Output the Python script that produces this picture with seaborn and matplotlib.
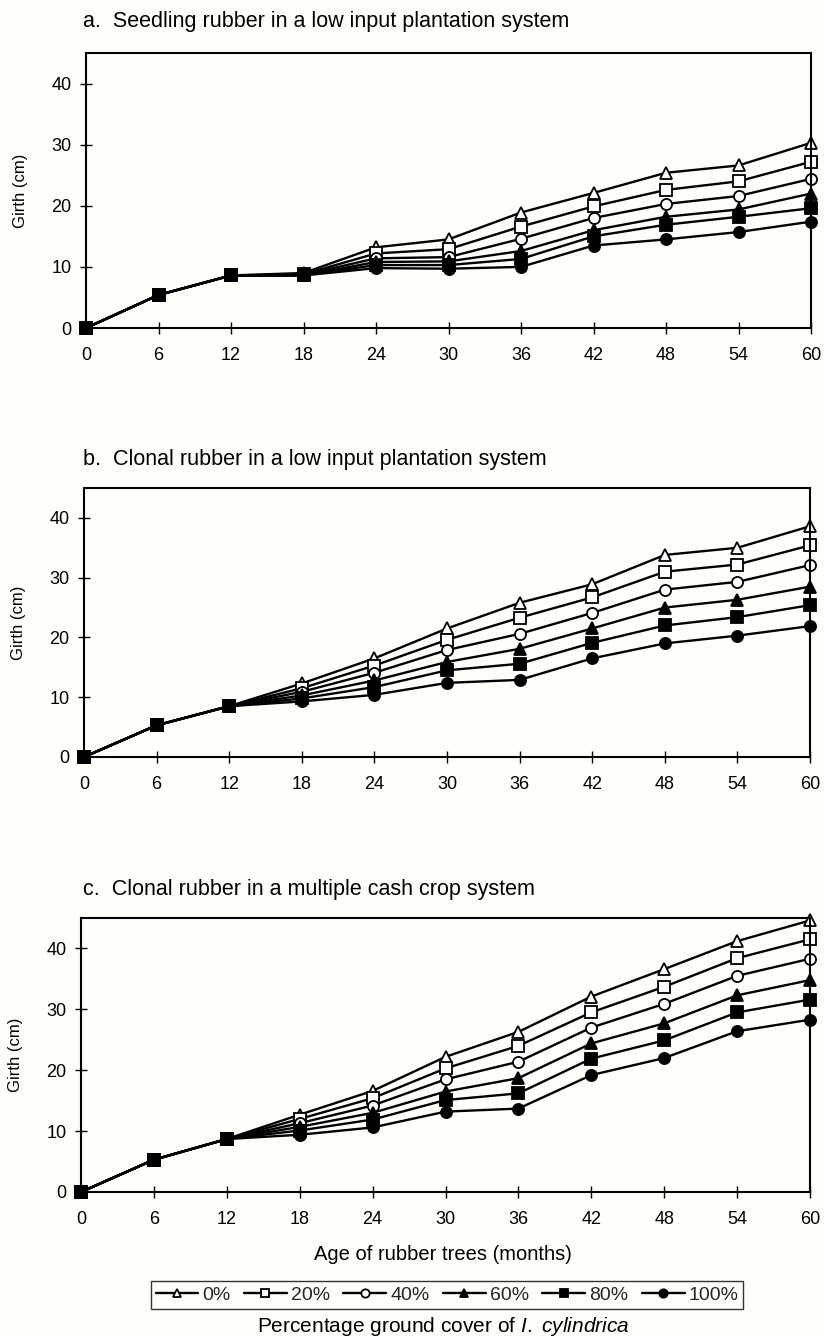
import numpy as np
import pandas as pd
import matplotlib
matplotlib.use("Agg")
import matplotlib.pyplot as plt
import seaborn as sns

# Age of the trees (months) and ground-cover treatments
months = [0, 6, 12, 18, 24, 30, 36, 42, 48, 54, 60]
cover_labels = ["0%", "20%", "40%", "60%", "80%", "100%"]

# a. Seedling rubber, low input plantation system (girth, cm)
seedling_0 = [0, 5.4, 8.6, 9.0, 13.2, 14.5, 18.9, 22.1, 25.4, 26.6, 30.3]
seedling_20 = [0, 5.4, 8.6, 8.8, 12.2, 12.9, 16.6, 19.9, 22.6, 24.0, 27.2]
seedling_40 = [0, 5.4, 8.6, 8.7, 11.4, 11.6, 14.6, 18.0, 20.3, 21.6, 24.4]
seedling_60 = [0, 5.4, 8.6, 8.6, 10.8, 10.9, 12.6, 16.0, 18.2, 19.4, 22.0]
seedling_80 = [0, 5.4, 8.6, 8.6, 10.3, 10.3, 11.3, 15.0, 16.9, 18.2, 19.6]
seedling_100 = [0, 5.4, 8.6, 8.6, 9.8, 9.7, 10.0, 13.5, 14.5, 15.7, 17.4]

# b. Clonal rubber, low input plantation system
clonal_low_0 = [0, 5.3, 8.5, 12.3, 16.5, 21.5, 25.8, 28.9, 33.8, 35.0, 38.6]
clonal_low_20 = [0, 5.3, 8.5, 11.5, 15.3, 19.6, 23.3, 26.7, 31.0, 32.2, 35.4]
clonal_low_40 = [0, 5.3, 8.5, 10.9, 14.1, 17.9, 20.6, 24.1, 28.0, 29.3, 32.1]
clonal_low_60 = [0, 5.3, 8.5, 10.3, 12.8, 15.9, 18.1, 21.5, 25.0, 26.3, 28.5]
clonal_low_80 = [0, 5.3, 8.5, 9.8, 11.7, 14.5, 15.6, 19.1, 22.0, 23.4, 25.4]
clonal_low_100 = [0, 5.3, 8.5, 9.3, 10.4, 12.4, 12.9, 16.5, 19.0, 20.3, 21.9]

# c. Clonal rubber, multiple cash crop system
clonal_cash_0 = [0, 5.3, 8.7, 12.7, 16.6, 22.2, 26.3, 32.1, 36.6, 41.2, 44.6]
clonal_cash_20 = [0, 5.3, 8.7, 12.0, 15.4, 20.3, 24.0, 29.5, 33.7, 38.4, 41.5]
clonal_cash_40 = [0, 5.3, 8.7, 11.3, 14.2, 18.5, 21.4, 27.0, 30.9, 35.5, 38.3]
clonal_cash_60 = [0, 5.3, 8.7, 10.7, 13.0, 16.5, 18.7, 24.4, 27.7, 32.3, 34.8]
clonal_cash_80 = [0, 5.3, 8.7, 10.1, 11.9, 15.1, 16.2, 21.9, 24.9, 29.5, 31.6]
clonal_cash_100 = [0, 5.3, 8.7, 9.4, 10.6, 13.2, 13.7, 19.2, 22.0, 26.4, 28.3]

panels = [
    ("a.  Seedling rubber in a low input plantation system",
     [seedling_0, seedling_20, seedling_40, seedling_60, seedling_80, seedling_100]),
    ("b.  Clonal rubber in a low input plantation system",
     [clonal_low_0, clonal_low_20, clonal_low_40, clonal_low_60, clonal_low_80, clonal_low_100]),
    ("c.  Clonal rubber in a multiple cash crop system",
     [clonal_cash_0, clonal_cash_20, clonal_cash_40, clonal_cash_60, clonal_cash_80, clonal_cash_100]),
]

markers = ["^", "s", "o", "^", "s", "o"]
faces = ["white", "white", "white", "black", "black", "black"]

sns.set_theme(style="white")
plt.rcParams["font.family"] = ["Liberation Sans", "DejaVu Sans"]
plt.rcParams["mathtext.fontset"] = "custom"
plt.rcParams["mathtext.it"] = "Liberation Sans:italic"
plt.rcParams["mathtext.rm"] = "Liberation Sans"

W, H = 824, 1336
fig = plt.figure(figsize=(W / 100, H / 100), dpi=100)
bg = "#fefefb"
fig.patch.set_facecolor(bg)

# axes boxes in pixels: left, right, top, bottom
boxes = [(86, 811, 53, 328), (84, 810, 488, 757), (81, 810, 918, 1192)]
title_y = [22, 459, 890]

handles = None
for (title, series), (l, r, t, b), ty in zip(panels, boxes, title_y):
    ax = fig.add_axes([l / W, 1 - b / H, (r - l) / W, (b - t) / H])
    ax.set_facecolor(bg)
    for vals, lab, m, fc in zip(series, cover_labels, markers, faces):
        df = pd.DataFrame({"month": months, "girth": vals})
        sns.lineplot(data=df, x="month", y="girth", ax=ax, color="black",
                     linewidth=1.7, marker=m, markersize=8,
                     markerfacecolor=fc, markeredgecolor="black",
                     markeredgewidth=1.3, label=lab, clip_on=False)
    ax.set_xlim(0, 60)
    ax.set_ylim(0, 45)
    ax.set_xticks(months)
    ax.set_yticks([0, 10, 20, 30, 40])
    ax.tick_params(axis="both", direction="inout", length=9, width=1.0,
                   color="black", labelsize=13, labelcolor="black", pad=6,
                   bottom=True, left=True)
    ax.tick_params(axis="x", pad=9)
    for s in ax.spines.values():
        s.set_visible(True)
        s.set_color("black")
        s.set_linewidth(1.5)
    ax.set_xlabel("")
    ax.set_ylabel("Girth (cm)", fontsize=12, color="black", labelpad=17)
    handles, labels = ax.get_legend_handles_labels()
    ax.get_legend().remove()
    fig.text(83 / W, 1 - ty / H, title, fontsize=15.5, va="center", ha="left",
             color="black")

fig.text(443 / W, 1 - 1255 / H, "Age of rubber trees (months)", fontsize=14.5,
         ha="center", va="center", color="black")

leg = fig.legend(handles, cover_labels, loc="center", ncol=6,
                 bbox_to_anchor=(447 / W, 1 - 1295 / H), frameon=True,
                 fancybox=False, edgecolor="black", fontsize=14,
                 handlelength=2.2, handletextpad=0.2, columnspacing=0.7,
                 borderpad=0.25, borderaxespad=0, markerscale=0.75,
                 facecolor=bg)
leg.get_frame().set_linewidth(1.0)

fig.text(443 / W, 1 - 1326 / H,
         r"Percentage ground cover of $\mathit{I.}$ $\mathit{cylindrica}$",
         fontsize=15, ha="center", va="center", color="black")

fig.savefig("out.png", dpi=100, facecolor=bg)
